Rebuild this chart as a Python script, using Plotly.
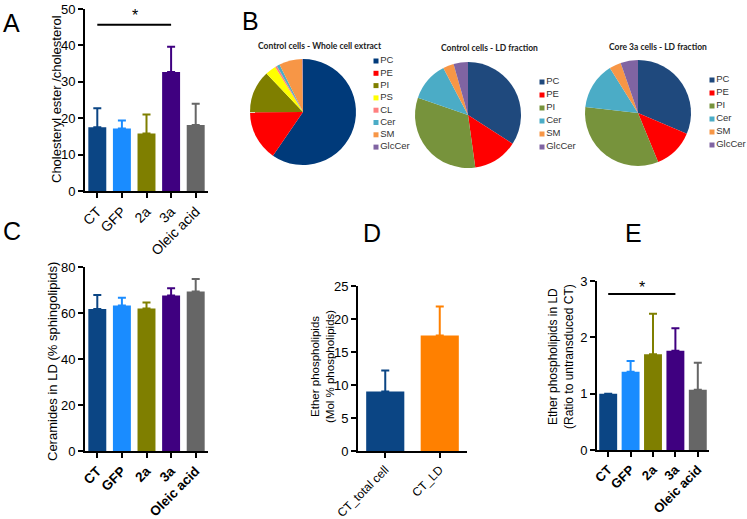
import plotly.graph_objects as go

W, H = 747, 519

# ---- data ----
groups = ['CT', 'GFP', '2a', '3a', 'Oleic acid']
group_colors = ['#0b4584', '#1a8cff', '#7f7f00', '#3f0080', '#666666']

ce_ratio = [17.5, 17.2, 15.8, 32.7, 18.1]
ce_err = [5.2, 2.2, 5.2, 6.9, 5.9]

cer_ld = [61.7, 63.3, 62.0, 67.6, 69.3]
cer_err = [6.1, 3.3, 2.6, 3.2, 5.5]

d_groups = ['CT_total cell', 'CT_LD']
d_colors = ['#0b4584', '#ff8000']
ether_mol = [9.0, 17.5]
ether_mol_err = [3.2, 4.4]

ether_ratio = [1.0, 1.39, 1.70, 1.76, 1.07]
ether_ratio_err = [0.0, 0.19, 0.72, 0.40, 0.48]

pie1_labels = ['PC', 'PE', 'PI', 'PS', 'CL', 'Cer', 'SM', 'GlcCer']
pie1_values = [59.6, 15.3, 13.0, 3.3, 0.6, 0.9, 7.1, 0.2]
pie1_colors = ['#003a7a', '#ff0000', '#7f7f00', '#ffff00', '#ff7f7f', '#4bacc6', '#f79646', '#8064a2']

ld_labels = ['PC', 'PE', 'PI', 'Cer', 'SM', 'GlcCer']
ld_colors = ['#1f497d', '#ff0000', '#77933c', '#4bacc6', '#f79646', '#8064a2']
pie2_values = [34.1, 13.7, 32.5, 12.0, 3.3, 4.4]
pie3_values = [31.4, 12.4, 33.0, 14.3, 3.6, 5.3]

FONT = 'Liberation Sans, Arial, sans-serif'


def px_x(a, b):
    return [a / W, b / W]


def px_y(top, bottom):
    return [1 - bottom / H, 1 - top / H]


fig = go.Figure()

# ---- bar panels ----
panels = [
    ('x', 'y', groups, group_colors, ce_ratio, ce_err, 0.73),
    ('x2', 'y2', groups, group_colors, cer_ld, cer_err, 0.73),
    ('x3', 'y3', d_groups, d_colors, ether_mol, ether_mol_err, 0.70),
    ('x4', 'y4', groups, group_colors, ether_ratio, ether_ratio_err, 0.80),
]
for xa, ya, cats, cols, vals, errs, bw in panels:
    for c, col, v, e in zip(cats, cols, vals, errs):
        fig.add_trace(go.Bar(
            x=[c], y=[v], xaxis=xa, yaxis=ya, width=bw,
            marker=dict(color=col, line=dict(width=0)),
            error_y=dict(type='data', array=[e], arrayminus=[0], symmetric=False,
                         color=col, thickness=2, width=4),
            showlegend=False, hoverinfo='x+y'))

# significance bars
fig.add_trace(go.Scatter(x=['CT', '3a'], y=[45.7, 45.7], xaxis='x', yaxis='y', mode='lines',
                         line=dict(color='black', width=2), showlegend=False, hoverinfo='skip'))
fig.add_trace(go.Scatter(x=['CT', '3a'], y=[2.77, 2.77], xaxis='x4', yaxis='y4', mode='lines',
                         line=dict(color='black', width=2), showlegend=False, hoverinfo='skip'))

# ---- pies ----
pies = [
    (pie1_labels, pie1_values, pie1_colors, (250, 356), (59, 165)),
    (ld_labels, pie2_values, ld_colors, (415, 521), (62, 168)),
    (ld_labels, pie3_values, ld_colors, (585, 691), (60, 166)),
]
for labels, vals, cols, dx, dy in pies:
    fig.add_trace(go.Pie(labels=labels, values=vals, sort=False, direction='clockwise',
                         marker=dict(colors=cols, line=dict(width=0)), textinfo='none',
                         domain=dict(x=px_x(*dx), y=px_y(*dy)), showlegend=False))

# pie legends, drawn on a pixel-space overlay axis
legends = [
    (pie1_labels, pie1_colors, 376, 61, 12.3),
    (ld_labels, ld_colors, 542, 82, 13.0),
    (ld_labels, ld_colors, 712, 80, 13.0),
]
for labels, cols, lx, ly, step in legends:
    fig.add_trace(go.Scatter(
        x=[lx] * len(labels), y=[ly + i * step for i in range(len(labels))],
        xaxis='x5', yaxis='y5', mode='markers+text', text=labels, textposition='middle right',
        marker=dict(symbol='square', size=5, color=cols),
        textfont=dict(family=FONT, size=9.5, color='#333333'),
        showlegend=False, hoverinfo='skip'))

# ---- axes ----
def xax(dom, rng, anchor, fsize, bold):
    return dict(domain=dom, type='category', range=rng, anchor=anchor, automargin=False,
                showline=True, linecolor='black', linewidth=2, ticks='outside', ticklen=5,
                tickwidth=2, tickcolor='black', tickangle=-45, showgrid=False, zeroline=False,
                tickfont=dict(family=FONT, size=fsize, color='black',
                              weight='bold' if bold else 'normal'))


def yax(dom, rng, dtick, anchor):
    return dict(domain=dom, range=rng, dtick=dtick, anchor=anchor, automargin=False,
                showline=True, linecolor='black', linewidth=2, ticks='outside', ticklen=5,
                tickwidth=2, tickcolor='black', showgrid=False, zeroline=False,
                tickfont=dict(family=FONT, size=13, color='black'))


fig.update_layout(
    template='none',
    width=W, height=H, margin=dict(l=0, r=0, t=0, b=0, pad=0),
    paper_bgcolor='white', plot_bgcolor='rgba(0,0,0,0)',
    barmode='overlay', showlegend=False,
    font=dict(family=FONT, color='black'),
    xaxis=xax(px_x(85, 208), [-0.5, 4.5], 'y', 14, False),
    yaxis=yax(px_y(9, 191), [0, 50], 10, 'x'),
    xaxis2=xax(px_x(85, 208), [-0.5, 4.5], 'y2', 13.5, True),
    yaxis2=yax(px_y(267, 451), [0, 80], 20, 'x2'),
    xaxis3=xax(px_x(358, 467), [-0.5, 1.5], 'y3', 12, False),
    yaxis3=yax(px_y(286, 451), [0, 25], 5, 'x3'),
    xaxis4=xax(px_x(597, 709), [-0.5, 4.5], 'y4', 13, True),
    yaxis4=yax(px_y(281, 450), [0, 3], 1, 'x4'),
    xaxis5=dict(domain=[0, 1], range=[0, W], visible=False, anchor='y5', automargin=False),
    yaxis5=dict(domain=[0, 1], range=[H, 0], visible=False, anchor='x5', automargin=False),
)


def note(text, x, y, size, angle=0, bold=False, family=FONT, color='black'):
    fig.add_annotation(text=text, x=x / W, y=1 - y / H, xref='paper', yref='paper',
                       showarrow=False, textangle=angle, xanchor='center', yanchor='middle',
                       font=dict(family=family, size=size, color=color,
                                 weight='bold' if bold else 'normal'))


# panel letters
for letter, x, y in [('A', 12, 23), ('B', 250, 21), ('C', 12, 231), ('D', 372, 233), ('E', 633, 233)]:
    note(letter, x, y, 25)

# y-axis titles
note('Cholesteryl ester /cholesterol', 57, 99, 13, -90)
note('Ceramides in LD (% sphingolipids)', 52, 362, 13, -90)
note('Ether phospholipids<br>(Mol % phospholipids)', 322, 367, 11.5, -90)
note('Ether phospholipids in LD<br>(Ratio to untransduced CT)', 561, 357, 12, -90)

# significance stars
note('*', 135, 16, 16)
note('*', 642, 288, 16)

# pie titles
note('Control cells - Whole cell extract', 320, 46, 8.5, bold=True, family='Lato, sans-serif', color='#222')
note('Control cells - LD fraction', 489, 48, 8.5, bold=True, family='Lato, sans-serif', color='#222')
note('Core 3a cells - LD fraction', 658, 47, 8.5, bold=True, family='Lato, sans-serif', color='#222')

fig.write_html('out.html', config={'displayModeBar': False},
               post_script="document.body.style.margin='0';")
